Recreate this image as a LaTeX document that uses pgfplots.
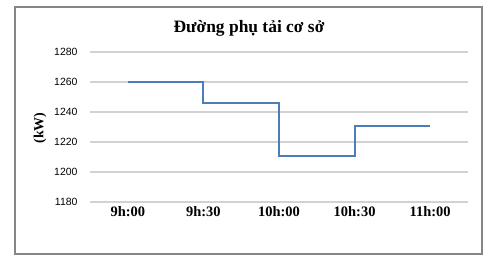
\documentclass[border=0pt]{standalone}
\usepackage{pgfplots}
\pgfplotsset{compat=1.18}
\usepackage{fontspec}
\setmainfont{Liberation Serif}
\newfontfamily\arialfont{Liberation Sans}
\definecolor{lineblue}{RGB}{74,126,187}
\definecolor{gridgray}{RGB}{210,210,210}
\definecolor{framegray}{RGB}{134,134,134}
\begin{document}
\begin{tikzpicture}[x=1bp,y=1bp]
\path[use as bounding box] (0,0) rectangle (500,262);
\draw[framegray, line width=1.4bp] (15,8) rectangle (482,255);
\begin{axis}[
  at={(90bp,60bp)}, anchor=south west,
  scale only axis, width=378bp, height=150bp,
  xmin=-0.5, xmax=4.5, ymin=1180, ymax=1280,
  ytick={1180,1200,1220,1240,1260,1280},
  xtick={0,1,2,3,4},
  xticklabels={9h:00,9h:30,10h:00,10h:30,11h:00},
  axis line style={draw=none},
  major tick length=0pt,
  ymajorgrids, grid style={gridgray, line width=1.5bp},
  yticklabel style={font=\arialfont\fontsize{10.5}{12}\selectfont, xshift=-9bp},
  xticklabel style={font=\bfseries\fontsize{14.5}{16}\selectfont, yshift=-1bp},
  /pgf/number format/assume math mode=true,
  /pgf/number format/1000 sep={},
  clip=false,
]
\addplot[const plot, lineblue, line width=2bp] coordinates {
  (0,1260) (1,1246) (2,1211) (3,1231) (4,1231)
};
\end{axis}
\node[font=\bfseries\fontsize{17.5}{20}\selectfont] at (249,234) {Đường phụ tải cơ sở};
\node[font=\bfseries\fontsize{14}{16}\selectfont, rotate=90] at (40,134) {(kW)};
\end{tikzpicture}
\end{document}
